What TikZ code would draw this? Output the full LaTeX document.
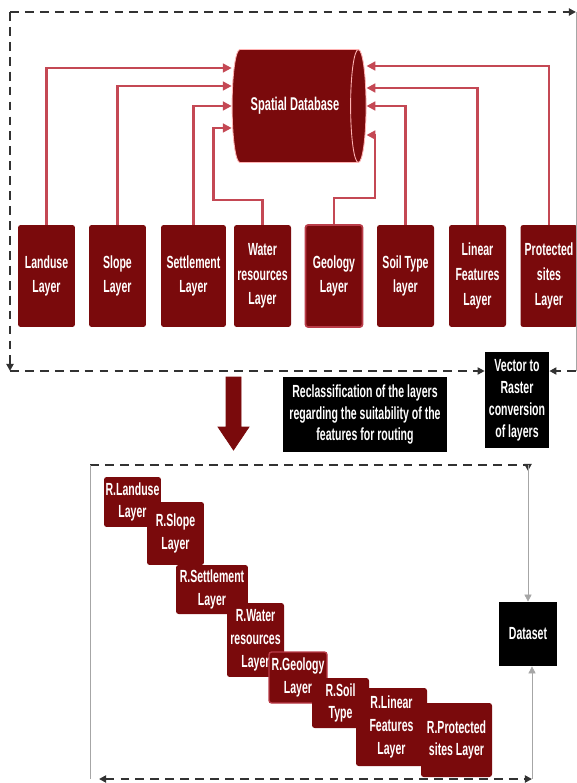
\documentclass[tikz,border=0pt]{standalone}
\usepackage{fontspec}
\setmainfont{Liberation Sans}
\newfontfamily\narrowfont[FakeStretch=0.6]{Liberation Sans}
\usepackage{tikz}
\usetikzlibrary{positioning,shapes.geometric,arrows.meta}

\definecolor{dkred}{RGB}{122,10,12}
\definecolor{lnred}{RGB}{196,72,84}
\definecolor{geored}{RGB}{185,60,72}
\definecolor{framegray}{RGB}{50,50,50}

\tikzset{
  layer/.style={rectangle, fill=dkred, rounded corners=1.5pt, text=white, align=center, inner sep=0pt,
    font={\narrowfont\bfseries\fontsize{10}{14}\selectfont}},
  rlayer/.style={layer, font={\narrowfont\bfseries\fontsize{10}{13}\selectfont}},
  blackbox/.style={rectangle, fill=black, text=white, align=center, inner sep=0pt,
    font={\narrowfont\bfseries\fontsize{10}{12.5}\selectfont}},
  link/.style={draw=lnred, line width=1.2pt, -{Triangle[length=5pt,width=5pt]}},
  frame/.style={draw=framegray, line width=1.3pt, dash pattern=on 5pt off 3.5pt},
  thinline/.style={draw=gray!70, line width=0.4pt},
  tip/.style={-{Triangle[length=4pt,width=4pt]}},
}

\begin{document}
\begin{tikzpicture}[x=0.02cm, y=-0.02cm]
  \useasboundingbox (0,0) rectangle (577,783);

  % spatial database
  \node (db) [cylinder, fill=dkred, draw=red!30!white, line width=0.5pt, minimum height=2.68cm, minimum width=2.26cm,
    shape aspect=0.9, text=white, inner sep=0pt, font={\narrowfont\bfseries\fontsize{10.5}{12}\selectfont}] at (295,106) {Spatial Database};

  % input layers
  \node (landuse) [layer, minimum width=1.14cm, minimum height=2.04cm] at (46.5,276) {Landuse\\Layer};
  \node (slope) [layer, minimum width=1.14cm, minimum height=2.04cm] at (117.5,276) {Slope\\Layer};
  \node (settle) [layer, minimum width=1.3cm, minimum height=2.04cm] at (193.5,276) {Settlement\\Layer};
  \node (water) [layer, minimum width=1.14cm, minimum height=2.04cm] at (262.5,276) {Water\\resources\\Layer};
  \node (geology) [layer, draw=geored, line width=1pt, minimum width=1.14cm, minimum height=2.04cm] at (334,276) {Geology\\Layer};
  \node (soil) [layer, minimum width=1.14cm, minimum height=2.04cm] at (405.5,276) {Soil Type\\layer};
  \node (linear) [layer, minimum width=1.14cm, minimum height=2.04cm] at (477.5,276) {Linear\\Features\\Layer};
  \node (protect) [layer, minimum width=1.14cm, minimum height=2.04cm] at (549,276) {Protected\\sites\\Layer};

  % layers into the database
  \draw[link] (landuse.north) |- ([yshift=0.76cm]db.west);
  \draw[link] (slope.north) |- ([yshift=0.40cm]db.west);
  \draw[link] (settle.north) |- (db.west);
  \draw[link] (water.north) -- ++(0,-25) -- ++(-49,0) |- ([yshift=-0.44cm]db.west);
  \draw[link] (geology.north) -- ++(0,-26) -- ++(41,0) |- ([yshift=-0.58cm]db.east);
  \draw[link] (soil.north) |- (db.east);
  \draw[link] (linear.north) |- ([yshift=0.36cm]db.east);
  \draw[link] (protect.north) |- ([yshift=0.80cm]db.east);

  % conversion and reclassification
  \node (vector) [blackbox, minimum width=1.28cm, minimum height=1.92cm] at (517,400) {Vector to\\Raster\\conversion\\of layers};
  \node (reclass) [blackbox, minimum width=3.28cm, minimum height=1.5cm] at (365,414.5) {Reclassification of the layers\\regarding the suitability of the\\features for routing};

  % upper frame
  \coordinate (tl) at (10,12);
  \coordinate (tr) at (576,12);
  \coordinate (bl) at (10,371);
  \coordinate (br) at (576,371);
  \draw[frame, tip] (tl) -- (tr);
  \draw[thinline] (tr) -- (br);
  \draw[frame, tip] (tl) -- (bl);
  \draw[frame, tip] (bl) -- (bl -| vector.west);
  \draw[frame, tip] (br) -- (br -| vector.east);

  % big arrow down
  \draw[fill=dkred, draw=dkred] (226,377) -- (241,377) -- (241,427) -- (249,427) -- (233.5,450) -- (218,427) -- (226,427) -- cycle;

  % reclassified layers
  \node (rlanduse) [rlayer, minimum width=1.14cm, minimum height=1.0cm] at (132.5,502) {R.Landuse\\Layer};
  \node (rslope) [rlayer, minimum width=1.14cm, minimum height=1.26cm] at (175.5,533.5) {R.Slope\\Layer};
  \node (rsettle) [rlayer, minimum width=1.44cm, minimum height=0.98cm] at (212,589.5) {R.Settlement\\Layer};
  \node (rwater) [rlayer, minimum width=1.14cm, minimum height=1.48cm] at (255.5,640) {R.Water\\resources\\Layer};
  \node (rgeology) [rlayer, draw=geored, line width=0.8pt, minimum width=1.16cm, minimum height=1.02cm] at (298,677.5) {R.Geology\\Layer};
  \node (rsoil) [rlayer, minimum width=1.14cm, minimum height=1.0cm] at (340.5,703) {R.Soil\\Type};
  \node (rlinear) [rlayer, minimum width=1.42cm, minimum height=1.56cm] at (391.5,727) {R.Linear\\Features\\Layer};
  \node (rprotect) [rlayer, minimum width=1.42cm, minimum height=1.48cm] at (456.5,740) {R.Protected\\sites Layer};

  \node (dataset) [blackbox, minimum width=1.16cm, minimum height=1.28cm] at (528,634) {Dataset};

  % lower frame
  \coordinate (ltl) at (90,465);
  \coordinate (ltr) at (528,465);
  \coordinate (lbl) at (90,779);
  \coordinate (lbr) at (532,779);
  \draw[frame] (ltl) -- (ltr);
  \draw[draw=framegray, line width=1pt, tip] (ltr) -- ++(0,6);
  \draw[thinline, tip] (ltr) -- (dataset.north);
  \draw[thinline] (ltl) -- (lbl);
  \draw[frame, {Triangle[length=4pt,width=4pt]}-{Triangle[length=4pt,width=4pt]}] ([xshift=0.18cm]lbl) -- (lbr);
  \draw[thinline, tip] (lbr) -- (lbr |- dataset.south);
\end{tikzpicture}
\end{document}
